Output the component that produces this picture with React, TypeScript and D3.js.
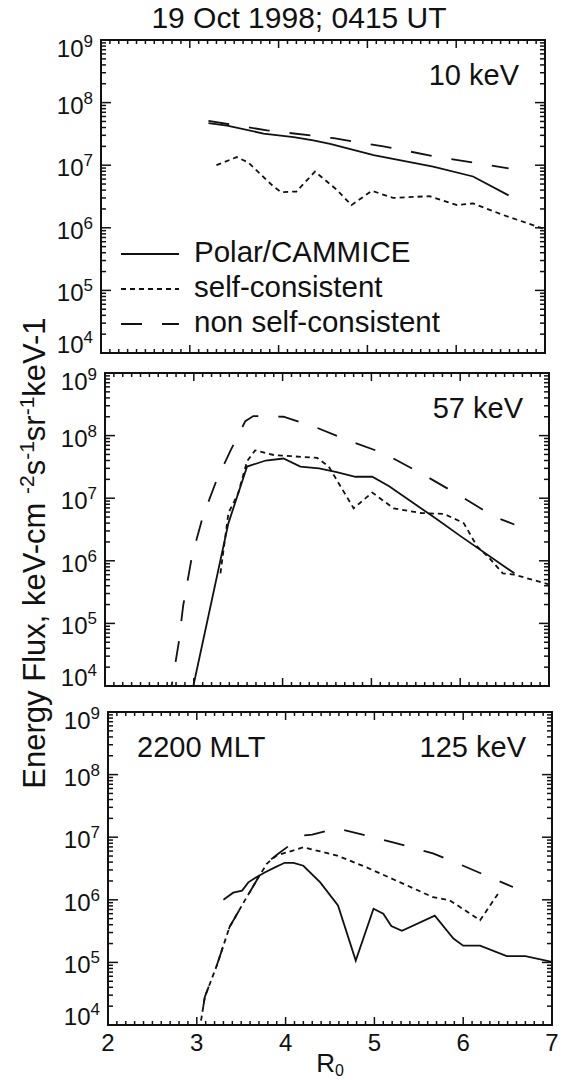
import React, { useEffect, useRef } from 'react';
import * as d3 from 'd3';

// 10 keV panel: R0 and energy flux
const r10Polar = [3.21, 3.42, 3.83, 4.17, 4.39, 4.58, 5.07, 5.74, 6.19, 6.59];
const f10Polar = [4.7e7, 4.3e7, 3.2e7, 2.8e7, 2.5e7, 2.2e7, 1.45e7, 9.5e6, 6.6e6, 3.3e6];
const r10Self = [3.3, 3.53, 3.66, 3.94, 4.03, 4.2, 4.41, 4.66, 4.82, 5.05, 5.29, 5.7, 6.01, 6.19, 6.53, 7.0];
const f10Self = [1.0e7, 1.35e7, 1.1e7, 4.6e6, 3.7e6, 3.8e6, 7.9e6, 4.0e6, 2.3e6, 3.9e6, 3.0e6, 3.2e6, 2.3e6, 2.45e6, 1.6e6, 9.5e5];
const r10NonSelf = [3.21, 3.87, 4.62, 5.18, 5.74, 6.59];
const f10NonSelf = [5.1e7, 3.6e7, 2.7e7, 2.0e7, 1.4e7, 8.9e6];

// 57 keV panel
const r57Polar = [2.98, 3.39, 3.6, 3.81, 4.01, 4.2, 4.41, 4.61, 4.82, 5.01, 5.2, 5.71, 6.0, 6.61];
const f57Polar = [8e3, 4.0e6, 3.2e7, 4.0e7, 4.3e7, 3.2e7, 3.0e7, 2.6e7, 2.2e7, 2.2e7, 1.55e7, 4.9e6, 2.5e6, 6.3e5];
const r57Self = [3.3, 3.39, 3.5, 3.6, 3.69, 3.9, 4.39, 4.52, 4.8, 5.01, 5.25, 5.56, 5.82, 6.04, 6.19, 6.33, 6.48, 6.61, 7.0];
const f57Self = [6.3e5, 5.8e6, 1.2e7, 3.9e7, 5.8e7, 4.9e7, 4.4e7, 3.2e7, 6.9e6, 1.23e7, 6.9e6, 5.8e6, 5.6e6, 4.0e6, 1.7e6, 1.1e6, 6.3e5, 6.0e5, 4.2e5];
const r57NonSelf = [2.72, 2.83, 2.88, 2.98, 3.1, 3.26, 3.42, 3.58, 3.67, 4.01, 4.35, 4.69, 5.14, 5.56, 6.01, 6.38, 6.61];
const f57NonSelf = [5.5e3, 4.9e4, 1.9e5, 1.2e6, 5e6, 2.0e7, 6.0e7, 1.7e8, 2.05e8, 2.0e8, 1.4e8, 8.9e7, 5.2e7, 2.5e7, 1.07e7, 5.1e6, 3.8e6];

// 125 keV panel
const r125Polar = [3.3, 3.41, 3.51, 3.58, 3.67, 3.77, 3.88, 3.99, 4.09, 4.2, 4.39, 4.59, 4.79, 4.99, 5.1, 5.19, 5.31, 5.68, 5.89, 6.0, 6.19, 6.49, 6.7, 7.0];
const f125Polar = [1.0e6, 1.3e6, 1.4e6, 1.9e6, 2.3e6, 2.75e6, 3.3e6, 3.9e6, 3.9e6, 3.5e6, 1.9e6, 8.1e5, 1.07e5, 7.2e5, 6.0e5, 3.8e5, 3.2e5, 5.6e5, 2.4e5, 1.85e5, 1.85e5, 1.26e5, 1.26e5, 1.02e5];
const r125Self = [3.0, 3.09, 3.22, 3.37, 3.52, 3.67, 3.79, 3.9, 4.2, 4.58, 4.91, 5.29, 5.66, 5.85, 6.19, 6.4];
const f125Self = [4.4e3, 2.8e4, 8.5e4, 3.7e5, 8.7e5, 2.0e6, 3.8e6, 5.1e6, 6.9e6, 5.1e6, 3.3e6, 1.9e6, 1.1e6, 9.8e5, 4.7e5, 1.3e6];
const r125NonSelf = [3.0, 3.09, 3.22, 3.37, 3.52, 3.67, 3.77, 3.85, 3.92, 4.2, 4.3, 4.58, 4.9, 5.21, 5.66, 6.0, 6.3, 6.56];
const f125NonSelf = [4.4e3, 2.8e4, 8.5e4, 3.7e5, 8.7e5, 2.0e6, 3.6e6, 4.6e6, 5.5e6, 1.07e7, 1.1e7, 1.38e7, 1.07e7, 8.3e6, 5.5e6, 3.5e6, 2.3e6, 1.6e6];

const panelLabels = ['10 keV', '57 keV', '125 keV'];
const legendNames = ['Polar/CAMMICE', 'self-consistent', 'non self-consistent'];
const xTickLabels = ['2', '3', '4', '5', '6', '7'];
const decades = [4, 5, 6, 7, 8, 9];

const font = "'Liberation Sans', Arial, Helvetica, sans-serif";
const dashes = ['none', '5,4', '21,20'];

// panel placement (the scan is a little skewed)
const frames = [
  { left: 101, top: 40 },
  { left: 105, top: 373 },
  { left: 108, top: 712 },
];
const pw = 444;
const ph = 313;

const App = () => {
  const ref = useRef<SVGSVGElement>(null);

  useEffect(() => {
    const svg = d3.select(ref.current);
    svg.selectAll('*').remove();

    const panels = [
      [[r10Polar, f10Polar], [r10Self, f10Self], [r10NonSelf, f10NonSelf]],
      [[r57Polar, f57Polar], [r57Self, f57Self], [r57NonSelf, f57NonSelf]],
      [[r125Polar, f125Polar], [r125Self, f125Self], [r125NonSelf, f125NonSelf]],
    ];

    const x = d3.scaleLinear().domain([2, 7]).range([0, pw]);
    const y = d3.scaleLog().domain([1e4, 1e9]).range([ph, 0]);

    panels.forEach((series, i) => {
      const { left, top } = frames[i];
      const g = svg.append('g').attr('transform', `translate(${left},${top})`);

      const clipId = `clip-${i}`;
      g.append('clipPath').attr('id', clipId)
        .append('rect').attr('width', pw).attr('height', ph);

      const line = d3.line<[number, number]>()
        .x(d => x(d[0]))
        .y(d => y(d[1]));

      series.forEach(([r, f], k) => {
        g.append('path')
          .datum(d3.zip(r, f) as [number, number][])
          .attr('d', line)
          .attr('fill', 'none')
          .attr('stroke', '#111')
          .attr('stroke-width', 1.8)
          .attr('stroke-dasharray', dashes[k])
          .attr('clip-path', `url(#${clipId})`);
      });

      // x ticks, inward on bottom and top
      x.ticks(50).forEach(t => {
        const major = Math.abs(t - Math.round(t)) < 1e-6;
        const len = major ? 8 : 4;
        g.append('line').attr('x1', x(t)).attr('x2', x(t)).attr('y1', ph).attr('y2', ph - len)
          .attr('stroke', '#111').attr('stroke-width', 1.5);
        g.append('line').attr('x1', x(t)).attr('x2', x(t)).attr('y1', 0).attr('y2', len)
          .attr('stroke', '#111').attr('stroke-width', 1.5);
      });

      // y ticks, inward on left and right
      y.ticks().forEach(t => {
        const e = Math.log10(t);
        const major = Math.abs(e - Math.round(e)) < 1e-6;
        const len = major ? 10 : 5;
        g.append('line').attr('x1', 0).attr('x2', len).attr('y1', y(t)).attr('y2', y(t))
          .attr('stroke', '#111').attr('stroke-width', 1.5);
        g.append('line').attr('x1', pw).attr('x2', pw - len).attr('y1', y(t)).attr('y2', y(t))
          .attr('stroke', '#111').attr('stroke-width', 1.5);
      });

      g.append('rect')
        .attr('width', pw).attr('height', ph)
        .attr('fill', 'none').attr('stroke', '#111').attr('stroke-width', 2);

      // y tick labels
      decades.forEach(d => {
        const off = d === 9 ? 17 : d === 4 ? 0 : 11;
        const txt = g.append('text')
          .attr('x', -8).attr('y', y(Math.pow(10, d)) + off)
          .attr('text-anchor', 'end')
          .attr('font-family', font).attr('font-size', 24).attr('fill', '#111');
        txt.append('tspan').text('10');
        txt.append('tspan').attr('font-size', 17).attr('dy', -10).text(String(d));
      });

      g.append('text')
        .attr('x', pw - 26).attr('y', 45)
        .attr('text-anchor', 'end')
        .attr('font-family', font).attr('font-size', 29).attr('fill', '#111')
        .text(panelLabels[i]);

      if (i === 0) {
        legendNames.forEach((name, k) => {
          const by = 222 + k * 35;
          g.append('line')
            .attr('x1', 20).attr('x2', 78).attr('y1', by - 8).attr('y2', by - 8)
            .attr('stroke', '#111').attr('stroke-width', 1.8)
            .attr('stroke-dasharray', dashes[k]);
          g.append('text')
            .attr('x', 93).attr('y', by)
            .attr('font-family', font).attr('font-size', 29.5).attr('fill', '#111')
            .text(name);
        });
      }

      if (i === 2) {
        g.append('text')
          .attr('x', 29).attr('y', 45)
          .attr('font-family', font).attr('font-size', 29).attr('fill', '#111')
          .text('2200 MLT');

        x.ticks(5).forEach((t, k) => {
          g.append('text')
            .attr('x', x(t)).attr('y', ph + 26)
            .attr('text-anchor', 'middle')
            .attr('font-family', font).attr('font-size', 24).attr('fill', '#111')
            .text(xTickLabels[k]);
        });

        const xl = g.append('text')
          .attr('x', pw / 2).attr('y', ph + 47)
          .attr('text-anchor', 'middle')
          .attr('font-family', font).attr('font-size', 26).attr('fill', '#111');
        xl.append('tspan').text('R');
        xl.append('tspan').attr('font-size', 16).attr('dy', 4).text('0');
      }
    });

    // title
    svg.append('text')
      .attr('x', 299).attr('y', 28)
      .attr('text-anchor', 'middle')
      .attr('font-family', font).attr('font-size', 30).attr('fill', '#111')
      .text('19 Oct 1998; 0415 UT');

    // y axis title
    const yl = svg.append('text')
      .attr('transform', 'translate(45,553) rotate(-90)')
      .attr('text-anchor', 'middle')
      .attr('font-family', font).attr('font-size', 31).attr('fill', '#111');
    yl.append('tspan').text('Energy Flux, keV-cm ');
    yl.append('tspan').attr('font-size', 21).attr('dy', -11).text('-2');
    yl.append('tspan').attr('dy', 11).text('s');
    yl.append('tspan').attr('font-size', 21).attr('dy', -11).text('-1');
    yl.append('tspan').attr('dy', 11).text('sr');
    yl.append('tspan').attr('font-size', 21).attr('dy', -11).text('-1');
    yl.append('tspan').attr('dy', 11).text('keV-1');
  }, []);

  return (
    <svg
      ref={ref}
      width={566}
      height={1080}
      style={{ position: 'absolute', left: 0, top: 0, background: '#fff' }}
    />
  );
};

export default App;
